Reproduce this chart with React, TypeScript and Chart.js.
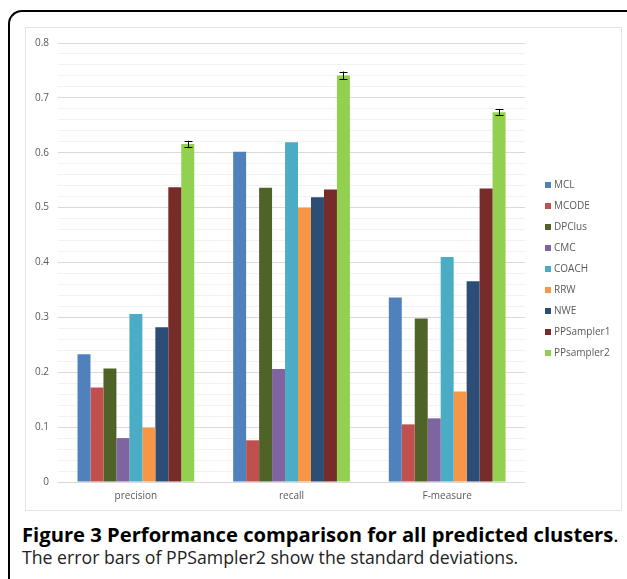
import React, { useEffect, useRef } from "react";
import { Chart, registerables } from "chart.js";

Chart.register(...registerables);

const categories = ["precision", "recall", "F-measure"];
const seriesNames = ["MCL", "MCODE", "DPClus", "CMC", "COACH", "RRW", "NWE", "PPSampler1", "PPsampler2"];
const seriesColors = ["#4F81BD", "#C0504D", "#4F6228", "#8064A2", "#4BACC6", "#F79646", "#2C4D75", "#772C2A", "#92D050"];
const MCL = [0.233, 0.602, 0.336];
const MCODE = [0.172, 0.076, 0.105];
const DPClus = [0.207, 0.536, 0.298];
const CMC = [0.08, 0.206, 0.116];
const COACH = [0.306, 0.619, 0.41];
const RRW = [0.099, 0.5, 0.165];
const NWE = [0.282, 0.519, 0.366];
const PPSampler1 = [0.537, 0.533, 0.535];
const PPsampler2 = [0.616, 0.741, 0.674];
const PPsampler2Err = [0.006, 0.007, 0.005];
const seriesValues = [MCL, MCODE, DPClus, CMC, COACH, RRW, NWE, PPSampler1, PPsampler2];

const FONT = "'Open Sans', 'DejaVu Sans', sans-serif";

const errorBarPlugin = {
  id: "errorBars",
  afterDatasetsDraw(chart: any) {
    const idx = seriesValues.length - 1;
    const meta = chart.getDatasetMeta(idx);
    const yScale = chart.scales.y;
    const ctx = chart.ctx;
    ctx.save();
    ctx.strokeStyle = "#000000";
    ctx.lineWidth = 1;
    meta.data.forEach((el: any, i: number) => {
      const v = PPsampler2[i];
      const e = PPsampler2Err[i];
      const x = Math.round(el.x) + 0.5;
      const yt = yScale.getPixelForValue(v + e);
      const yb = yScale.getPixelForValue(v - e);
      ctx.beginPath();
      ctx.moveTo(x, yt);
      ctx.lineTo(x, yb);
      ctx.moveTo(x - 4, Math.round(yt) + 0.5);
      ctx.lineTo(x + 4, Math.round(yt) + 0.5);
      ctx.moveTo(x - 4, Math.round(yb) + 0.5);
      ctx.lineTo(x + 4, Math.round(yb) + 0.5);
      ctx.stroke();
    });
    ctx.restore();
  },
};

const legendPlugin = {
  id: "sideLegend",
  afterDraw(chart: any) {
    const ctx = chart.ctx;
    const x0 = chart.chartArea.right + 20;
    const step = 21;
    const n = seriesNames.length;
    const yc = chart.height / 2;
    const y0 = yc - ((n - 1) * step) / 2;
    ctx.save();
    ctx.font = `10px ${FONT}`;
    ctx.textBaseline = "middle";
    ctx.textAlign = "left";
    seriesNames.forEach((name, i) => {
      const y = y0 + i * step;
      ctx.fillStyle = seriesColors[i];
      ctx.fillRect(x0, Math.round(y - 3), 6, 6);
      ctx.fillStyle = "#595959";
      ctx.fillText(name, x0 + 9, y);
    });
    ctx.restore();
  },
};

export default function App() {
  const ref = useRef<HTMLCanvasElement | null>(null);
  useEffect(() => {
    document.body.style.margin = "0";
    if (!ref.current) return;
    const chart = new Chart(ref.current, {
      type: "bar",
      data: {
        labels: categories,
        datasets: seriesNames.map((n, i) => ({
          label: n,
          data: seriesValues[i],
          backgroundColor: seriesColors[i],
          borderWidth: 0,
          barPercentage: 1,
          categoryPercentage: 0.75,
        })),
      },
      options: {
        animation: false,
        responsive: false,
        maintainAspectRatio: false,
        layout: { padding: { left: 0, top: 6, bottom: 0, right: 96 } },
        plugins: {
          legend: { display: false },
          tooltip: { enabled: false },
        },
        scales: {
          x: {
            grid: { display: false, drawTicks: false },
            border: { display: false },
            ticks: { color: "#595959", font: { family: FONT, size: 10 }, padding: 8 },
          },
          y: {
            min: 0,
            max: 0.8,
            border: { display: false },
            grid: {
              drawTicks: false,
              color: (c: any) => (c.index % 5 === 0 ? "#d9d9d9" : "#f2f2f2"),
            },
            ticks: {
              stepSize: 0.02,
              autoSkip: false,
              padding: 9,
              color: "#595959",
              font: { family: FONT, size: 10 },
              callback: (v: any, i: number) => (i % 5 === 0 ? String(Math.round(Number(v) * 10) / 10) : ""),
            },
          },
        },
      },
      plugins: [errorBarPlugin, legendPlugin],
    });
    return () => chart.destroy();
  }, []);

  return (
    <div style={{ position: "fixed", left: 0, top: 0, width: 627, height: 579, overflow: "hidden", background: "#fff" }}>
      <div
        style={{
          position: "absolute",
          left: 8,
          top: 10,
          width: 700,
          height: 700,
          borderTop: "2px solid #000",
          borderLeft: "2px solid #000",
          borderTopLeftRadius: 14,
        }}
      />
      <div
        style={{
          position: "absolute",
          left: 25,
          top: 27,
          width: 595,
          height: 482,
          border: "1px solid #e3e3e3",
        }}
      >
        <canvas ref={ref} width={595} height={482} style={{ display: "block" }} />
      </div>
      <div
        style={{
          position: "absolute",
          left: 22,
          top: 522,
          fontFamily: FONT,
          fontSize: 20.2,
          lineHeight: "24px",
          color: "#000",
          whiteSpace: "nowrap",
        }}
      >
        <span style={{ fontWeight: 700 }}>Figure 3 Performance comparison for all predicted clusters</span>.
      </div>
      <div
        style={{
          position: "absolute",
          left: 22,
          top: 545,
          fontFamily: FONT,
          fontSize: 17.7,
          lineHeight: "24px",
          color: "#222",
          whiteSpace: "nowrap",
        }}
      >
        The error bars of PPSampler2 show the standard deviations.
      </div>
    </div>
  );
}
